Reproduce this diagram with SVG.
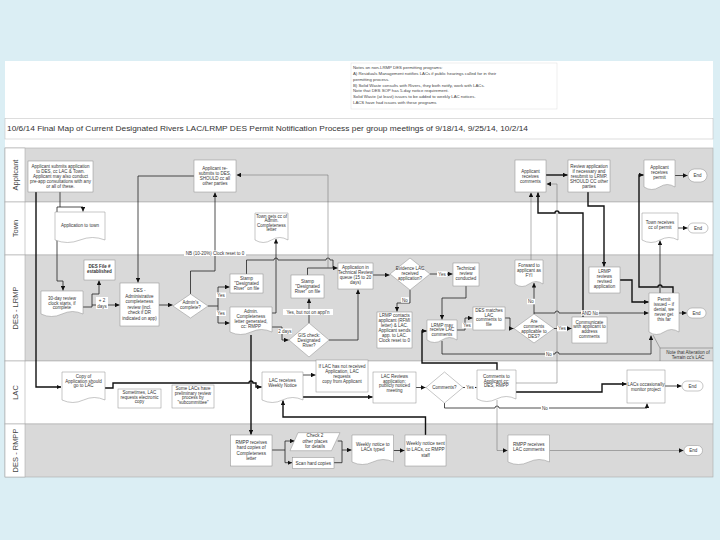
<svg xmlns="http://www.w3.org/2000/svg" width="720" height="540" viewBox="0 0 720 540">
<defs>
<marker id="ah" viewBox="0 0 6 6" refX="6" refY="3" markerWidth="4.5" markerHeight="4.5" markerUnits="userSpaceOnUse" orient="auto"><path d="M0,0L6,3L0,6z" fill="#111"/></marker>
<style>
text{font-family:"Liberation Sans",Arial,sans-serif;fill:#333}
.t{font-size:4.5px;text-anchor:middle}
.r{font-size:4.6px;text-anchor:middle}
.b{fill:#fff;stroke:#8c8c8c;stroke-width:0.5}
.lg{fill:#d9d9d9;stroke:#aaa;stroke-width:0.6}
.lw{fill:#fff;stroke:#aaa;stroke-width:0.6}
.lc{fill:#fff;stroke:#aaa;stroke-width:0.6}
.ll{font-size:7.5px;text-anchor:middle;fill:#444}
.c{fill:none;stroke:#222;stroke-width:0.8}
.k{fill:none;stroke:#111;stroke-width:1.4}
.h{fill:none;stroke:#666;stroke-width:0.5}
.a{marker-end:url(#ah)}
.lb{fill:#fff}
.nt{font-size:4.3px;fill:#444}
</style>
</defs>
<rect width="720" height="540" fill="#dbeef4"/>
<rect x="5" y="61" width="708" height="416" fill="#fff"/>

<g id="notes">
<rect x="351" y="63" width="206" height="46" fill="#fff" stroke="#ddd" stroke-width="0.5"/>
<text class="nt"><tspan x="353" y="68.8">Notes on non-LRMP DES permitting programs:</tspan><tspan x="353" y="74.7">A) Residuals Management notifies LACs if public hearings called for in their</tspan><tspan x="353" y="80.6">permitting process.</tspan><tspan x="353" y="86.5">B) Solid Waste consults with Rivers, they both notify, work with LACs.</tspan><tspan x="353" y="92.4">Note that DES SOP has 5-day notice requirement.</tspan><tspan x="353" y="98.3">Solid Waste (at least) issues to be added to weekly LAC notices.</tspan><tspan x="353" y="104.2">LACS have had issues with these programs</tspan></text>
</g>

<g id="title">
<rect x="5" y="118.3" width="708" height="20.7" fill="#fff" stroke="#bbb" stroke-width="0.5"/>
<text x="7" y="131.3" font-size="7.7" textLength="521" lengthAdjust="spacingAndGlyphs" fill="#222">10/6/14 Final Map of Current Designated Rivers LAC/LRMP DES Permit Notification Process per group meetings of 9/18/14, 9/25/14, 10/2/14</text>
</g>

<g id="lanes">
<rect class="lg" x="5" y="148" width="708" height="54"/>
<rect class="lw" x="5" y="202" width="708" height="53"/>
<rect class="lg" x="5" y="255" width="708" height="106"/>
<rect class="lw" x="5" y="361" width="708" height="63"/>
<rect class="lg" x="5" y="424" width="708" height="53"/>
<rect class="lc" x="5" y="148" width="20" height="54"/>
<rect class="lc" x="5" y="202" width="20" height="53"/>
<rect class="lc" x="5" y="255" width="20" height="106"/>
<rect class="lc" x="5" y="361" width="20" height="63"/>
<rect class="lc" x="5" y="424" width="20" height="53"/>
<text class="ll" transform="translate(17.6,175) rotate(-90)">Applicant</text>
<text class="ll" transform="translate(17.6,228.5) rotate(-90)">Town</text>
<text class="ll" transform="translate(17.6,308) rotate(-90)">DES - LRMP</text>
<text class="ll" transform="translate(17.6,392.5) rotate(-90)">LAC</text>
<text class="ll" transform="translate(17.6,450.5) rotate(-90)">DES - RMPP</text>
</g>

<g id="connectors">
<path class="k a" d="M36,192V387H61"/>
<path class="c a" d="M60,192V207H83V211.5"/>
<path class="c a" d="M60,207H57V281H63V290.5"/>
<path class="c a" d="M83,307H92V294H99V280.5"/>
<path class="c a" d="M92,305H119.5"/>
<path class="c a" d="M159,305H172.5"/>
<path class="c a" d="M208,306H218V287H229.5"/>
<path class="c a" d="M218,306V323H229.5"/>
<path class="c a" d="M190.5,294V271H215V192.5"/>
<path class="c a" d="M194,176H138V282.5"/>
<path class="c" d="M246.5,274V260H274a2,2 0 0 1 4,0H326a2,2 0 0 1 4,0H333V268"/>
<path class="c a" d="M307.5,275V268H337.5"/>
<path class="h a" d="M328,268V175H236.5"/>
<path class="c a" d="M272,327H282V340H288.5"/>
<path class="c a" d="M309,323V298.5"/>
<path class="c a" d="M329,340H358V289.5"/>
<path class="k a" d="M251,335V434.5"/>
<path class="c a" d="M272,313H276V239"/>
<path class="c a" d="M373,275H389.5"/>
<path class="c a" d="M430,274H452.5"/>
<path class="c a" d="M410,290V303H397V311.5"/>
<path class="c a" d="M466,286V298H442V319.5"/>
<path class="c a" d="M457,330H465V318H472.5"/>
<path class="c a" d="M505,318H510V328.5H513.5"/>
<path class="c a" d="M534,314V283"/>
<path class="c a" d="M534,313H555a2,2 0 0 1 4,0H581a2,2 0 0 1 4,0H648.5"/>
<path class="c a" d="M554,328.5H571.5"/>
<path class="k a" d="M583,317V213H559a2,2 0 0 0 -4,0H538V192.5"/>
<path class="h a" d="M531,260V192.5"/>
<path class="c a" d="M442,341V354H555a2,2 0 0 1 4,0H651V335.5"/>
<path class="k a" d="M588,192V206H604V266.5"/>
<path class="k a" d="M546,175H567.5"/>
<path class="k a" d="M620,280H632V302H648.5"/>
<path class="k a" d="M673,293V287H662a2,2 0 0 0 -4,0H639V175H643.5"/>
<path class="c a" d="M660,293V240.5"/>
<path class="c a" d="M679,313H686.5"/>
<path class="c a" d="M675,175.5H687.5"/>
<path class="c a" d="M678,228H687.5"/>
<path class="h" d="M653,335L660,348"/>
<path class="k a" d="M105,388H113V383H249a2,2 0 0 1 4,0H256V387H261.5"/>
<path class="c a" d="M303,375H315.5"/>
<path class="k a" d="M303,397H372.5"/>
<path class="c a" d="M416,387.5H425.5"/>
<path class="c a" d="M463,387.5H476.5"/>
<path class="k a" d="M516,392H602V384H626.5"/>
<path class="c a" d="M665,386H681.5"/>
<path class="c a" d="M444.5,403V408H495a2,2 0 0 1 4,0H647V403.5"/>
<path class="k a" d="M497,370V363H422V331H426.5"/>
<path class="h a" d="M516,383H557V184H546.5"/>
<path class="h a" d="M497,400V450.5H507.5"/>
<path class="k a" d="M425.5,435V417H283V400.5"/>
<path class="c a" d="M272,450H285V441H294.5"/>
<path class="c a" d="M285,450V462.7H292"/>
<path class="c a" d="M337.7,441H342V450H351.5"/>
<path class="c" d="M334,462.7H342V450"/>
<path class="c a" d="M393.5,450.5H404.5"/>
<path class="h a" d="M549.5,450.5H683.5"/>
<g id="conn-labels">
<rect class="lb" x="96" y="297" width="12" height="12"/>
<text class="t"><tspan x="102" y="302.3">+ 2</tspan><tspan x="102" y="307.6">days</tspan></text>
<rect class="lb" x="184" y="250.5" width="62" height="5.5"/>
<text class="t" x="215" y="254.8">NB (10-20%) Clock reset to 0</text>
<rect class="lb" x="216" y="292.5" width="10" height="5.5"/>
<text class="t" x="221" y="296.8">Yes</text>
<rect class="lb" x="216" y="310.5" width="10" height="5.5"/>
<text class="t" x="221" y="314.8">Yes</text>
<rect class="lb" x="278" y="328.5" width="14" height="5.5"/>
<text class="t" x="285" y="332.8">2 days</text>
<rect class="lb" x="283" y="309" width="50" height="6"/>
<text class="t" x="308" y="313.5">Yes, but not on appl'n</text>
<rect class="lb" x="437" y="271.3" width="10" height="5.5"/>
<text class="t" x="442" y="275.6">Yes</text>
<rect class="lb" x="401" y="297.2" width="8" height="5.5"/>
<text class="t" x="405" y="301.5">No</text>
<rect class="lb" x="462" y="322.8" width="10" height="5.5"/>
<text class="t" x="467" y="327.1">Yes</text>
<rect class="lb" x="527" y="298.8" width="8" height="5.5"/>
<text class="t" x="531" y="303.1">No</text>
<rect class="lb" x="581" y="310.2" width="18" height="5.5"/>
<text class="t" x="590" y="314.5">AND No</text>
<rect class="lb" x="557" y="325.8" width="10" height="5.5"/>
<text class="t" x="562" y="330.1">Yes</text>
<rect class="lb" x="545" y="351.2" width="8" height="5.5"/>
<text class="t" x="549" y="355.5">No</text>
<rect class="lb" x="465" y="384.8" width="10" height="5.5"/>
<text class="t" x="470" y="389.1">Yes</text>
<rect class="lb" x="541" y="405.2" width="8" height="5.5"/>
<text class="t" x="545" y="409.5">No</text>
</g>
</g>

<g id="n-applicant-submits"><rect class="b" x="28" y="161" width="65" height="31"/><text class="t"><tspan x="60.5" y="168">Applicant submits application</tspan><tspan x="60.5" y="173">to DES, cc LAC &amp; Town.</tspan><tspan x="60.5" y="178">Applicant may also conduct</tspan><tspan x="60.5" y="183">pre-app consultations with any</tspan><tspan x="60.5" y="188">or all of these.</tspan></text></g>
<g id="n-resubmits"><rect class="b" x="194" y="160" width="42" height="32"/><text class="t"><tspan x="215" y="170">Applicant re-</tspan><tspan x="215" y="175">submits to DES,</tspan><tspan x="215" y="180">SHOULD cc all</tspan><tspan x="215" y="185">other parties</tspan></text></g>
<g id="n-app-receives-comments"><rect class="b" x="515" y="160" width="31" height="32"/><text class="t"><tspan x="530.5" y="172.5">Applicant</tspan><tspan x="530.5" y="177.5">receives</tspan><tspan x="530.5" y="182.5">comments</tspan></text></g>
<g id="n-review-application"><rect class="b" x="568" y="160" width="42" height="32"/><text class="t"><tspan x="589" y="168">Review application</tspan><tspan x="589" y="173">if necessary and</tspan><tspan x="589" y="178">resubmit to LRMP.</tspan><tspan x="589" y="183">SHOULD CC other</tspan><tspan x="589" y="188">parties</tspan></text></g>
<g id="n-app-receives-permit"><path class="b" d="M644,160H675V187Q667.25,182 659.5,187T644,187Z"/><text class="t"><tspan x="659.5" y="168.5">Applicant</tspan><tspan x="659.5" y="173.5">receives</tspan><tspan x="659.5" y="178.5">permit</tspan></text></g>
<g id="n-end1"><rect class="b" x="688" y="169" width="19" height="13" rx="6.5"/><text class="t" x="697.5" y="177">End</text></g>

<g id="n-app-to-town"><path class="b" d="M55,212H105V240Q92.5,235 80,240T55,240Z"/><text class="t" x="80" y="226.5">Application to town</text></g>
<g id="n-town-gets-cc"><path class="b" d="M255,213H288V240Q279.75,235 271.5,240T255,240Z"/><text class="t"><tspan x="271.5" y="217.5">Town gets cc of</tspan><tspan x="271.5" y="222">Admin.</tspan><tspan x="271.5" y="226.5">Completeness</tspan><tspan x="271.5" y="231">letter</tspan></text></g>
<g id="n-town-receives-permit"><path class="b" d="M642,213H678V240Q669,235 660,240T642,240Z"/><text class="t"><tspan x="660" y="224.2">Town receives</tspan><tspan x="660" y="229.2">cc of permit</tspan></text></g>
<g id="n-end2"><rect class="b" x="688" y="223" width="20" height="10" rx="5"/><text class="t" x="698" y="229.6">End</text></g>

<g id="n-des-file"><rect class="b" x="84" y="260" width="31" height="20"/><text class="t" font-weight="bold" fill="#111"><tspan x="99.5" y="268">DES File #</tspan><tspan x="99.5" y="273.3">established</tspan></text></g>
<g id="n-30day"><path class="b" d="M41,291H83V314Q72.5,309 62,314T41,314Z"/><text class="t"><tspan x="62" y="300">30-day review</tspan><tspan x="62" y="304.6">clock starts, if</tspan><tspan x="62" y="309.2">complete</tspan></text></g>
<g id="n-des-admin"><rect class="b" x="120" y="283" width="39" height="43"/><text class="t"><tspan x="139.5" y="292.3">DES -</tspan><tspan x="139.5" y="297.8">Administrative</tspan><tspan x="139.5" y="303.3">completeness</tspan><tspan x="139.5" y="308.8">review (incl.</tspan><tspan x="139.5" y="314.3">check if DR</tspan><tspan x="139.5" y="319.8">indicated on app)</tspan></text></g>
<g id="n-admin-complete"><path class="b" d="M190.5,294L208,306L190.5,318L173,306Z"/><text class="t"><tspan x="190.5" y="304.3">Admin's</tspan><tspan x="190.5" y="309.3">complete?</tspan></text></g>
<g id="n-stamp1"><rect class="b" x="230" y="274" width="33" height="19"/><text class="t"><tspan x="246.5" y="280">Stamp</tspan><tspan x="246.5" y="285">"Designated</tspan><tspan x="246.5" y="290">River" on file</tspan></text></g>
<g id="n-stamp2"><rect class="b" x="291" y="275" width="33" height="23"/><text class="t"><tspan x="307.5" y="283">Stamp</tspan><tspan x="307.5" y="288">"Designated</tspan><tspan x="307.5" y="293">River" on file</tspan></text></g>
<g id="n-admin-letter"><path class="b" d="M230,307H272V332Q261.5,327 251,332T230,332Z"/><text class="t"><tspan x="251" y="312.5">Admin.</tspan><tspan x="251" y="317.5">Completeness</tspan><tspan x="251" y="322.5">letter generated,</tspan><tspan x="251" y="327.5">cc: RMPP</tspan></text></g>
<g id="n-gis"><path class="b" d="M309,323L329,340L309,357L289,340Z"/><text class="t"><tspan x="309" y="337">GIS check:</tspan><tspan x="309" y="342">Designated</tspan><tspan x="309" y="347">River?</tspan></text></g>
<g id="n-tech-queue"><rect class="b" x="338" y="263" width="35" height="26"/><text class="t"><tspan x="355.5" y="268.8">Application in</tspan><tspan x="355.5" y="273.8">Technical Review</tspan><tspan x="355.5" y="278.8">queue (15 to 20</tspan><tspan x="355.5" y="283.8">days)</tspan></text></g>
<g id="n-evidence"><path class="b" d="M410,258L430,274L410,290L390,274Z"/><text class="t"><tspan x="410" y="269.5">Evidence LAC</tspan><tspan x="410" y="274.5">received</tspan><tspan x="410" y="279.5">application?</tspan></text></g>
<g id="n-lrmp-contacts"><rect class="b" x="377" y="312" width="35" height="36"/><text class="t"><tspan x="394.5" y="317.3">LRMP contacts</tspan><tspan x="394.5" y="322.3">applicant (RFMI</tspan><tspan x="394.5" y="327.3">letter) &amp; LAC.</tspan><tspan x="394.5" y="332.3">Applicant sends</tspan><tspan x="394.5" y="337.3">app. to LAC.</tspan><tspan x="394.5" y="342.3">Clock reset to 0</tspan></text></g>
<g id="n-tech-review"><rect class="b" x="453" y="263" width="26" height="23"/><text class="t"><tspan x="466" y="270">Technical</tspan><tspan x="466" y="275">review</tspan><tspan x="466" y="280">conducted</tspan></text></g>
<g id="n-fyi"><path class="b" d="M515,260H543V284Q536,279 529,284T515,284Z"/><text class="t"><tspan x="529" y="266.5">Forward to</tspan><tspan x="529" y="271.5">applicant as</tspan><tspan x="529" y="276.5">FYI</tspan></text></g>
<g id="n-lrmp-reviews"><rect class="b" x="589" y="267" width="31" height="26"/><text class="t"><tspan x="604.5" y="272.5">LRMP</tspan><tspan x="604.5" y="277.5">reviews</tspan><tspan x="604.5" y="282.5">revised</tspan><tspan x="604.5" y="287.5">application</tspan></text></g>
<g id="n-permit"><path class="b" d="M649,293H679V332Q671.5,327 664,332T649,332Z"/><text class="t"><tspan x="664" y="300.8">Permit</tspan><tspan x="664" y="305.8">issued – if</tspan><tspan x="664" y="310.8">denial, we</tspan><tspan x="664" y="315.8">never get</tspan><tspan x="664" y="320.8">this far</tspan></text></g>
<g id="n-end3"><rect class="b" x="687" y="308" width="19" height="10" rx="5"/><text class="t" x="696.5" y="314.6">End</text></g>
<g id="n-lrmp-may-receive"><path class="b" d="M427,320H457V340Q449.5,335 442,340T427,340Z"/><text class="t"><tspan x="442" y="326.5">LRMP may</tspan><tspan x="442" y="331.2">receive LAC</tspan><tspan x="442" y="335.9">comments</tspan></text></g>
<g id="n-des-matches"><rect class="b" x="473" y="307" width="32" height="23"/><text class="t"><tspan x="489" y="312">DES matches</tspan><tspan x="489" y="316.5">LAC</tspan><tspan x="489" y="321">comments to</tspan><tspan x="489" y="325.5">file</tspan></text></g>
<g id="n-are-comments"><path class="b" d="M534,314L554,328.5L534,343L514,328.5Z"/><text class="t"><tspan x="534" y="323.2">Are</tspan><tspan x="534" y="328">comments</tspan><tspan x="534" y="332.8">applicable to</tspan><tspan x="534" y="337.6">DES?</tspan></text></g>
<g id="n-communicate"><rect class="b" x="572" y="317" width="35" height="26"/><text class="t"><tspan x="589.5" y="323.5">Communicate</tspan><tspan x="589.5" y="328.2">with applicant to</tspan><tspan x="589.5" y="332.9">address</tspan><tspan x="589.5" y="337.6">comments</tspan></text></g>
<g id="n-note-aot"><path class="h" d="M660,361V348H713"/><text class="t" font-size="4.3"><tspan x="688" y="354">Note that Alteration of</tspan><tspan x="688" y="359.3">Terrain cc's LAC</tspan></text></g>

<g id="n-copy-lac"><path class="b" d="M62,372H105V400Q94.25,395 83.5,400T62,400Z"/><text class="t"><tspan x="83.5" y="377.7">Copy of</tspan><tspan x="83.5" y="382.5">Application should</tspan><tspan x="83.5" y="387.3">go to LAC</tspan></text></g>
<g id="n-sometimes"><rect class="b" x="118" y="389" width="43" height="19"/><text class="t"><tspan x="139.5" y="394.2">Sometimes, LAC</tspan><tspan x="139.5" y="398.8">requests electronic</tspan><tspan x="139.5" y="403.4">copy</tspan></text></g>
<g id="n-some-lacs"><rect class="b" x="172" y="385" width="42" height="23"/><text class="t"><tspan x="193" y="390">Some LACs have</tspan><tspan x="193" y="394.5">preliminary review</tspan><tspan x="193" y="399">process by</tspan><tspan x="193" y="403.5">"subcommittee"</tspan></text></g>
<g id="n-lac-weekly"><path class="b" d="M262,372H303V400Q292.75,395 282.5,400T262,400Z"/><text class="t"><tspan x="282.5" y="381.5">LAC receives</tspan><tspan x="282.5" y="386.5">Weekly Notice</tspan></text></g>
<g id="n-if-lac"><rect class="b" x="316" y="360" width="52" height="32"/><text class="t"><tspan x="342" y="367.5">If LAC has not received</tspan><tspan x="342" y="372.8">Application, LAC</tspan><tspan x="342" y="378.1">requests</tspan><tspan x="342" y="383.4">copy from Applicant</tspan></text></g>
<g id="n-lac-reviews"><rect class="b" x="373" y="372" width="43" height="31"/><text class="t"><tspan x="394.5" y="377.7">LAC Reviews</tspan><tspan x="394.5" y="382.5">application;</tspan><tspan x="394.5" y="387.3">publicly noticed</tspan><tspan x="394.5" y="392.1">meeting</tspan></text></g>
<g id="n-comments-q"><path class="b" d="M444.5,372L463,387.5L444.5,403L426,387.5Z"/><text class="t" x="444.5" y="389.1">Comments?</text></g>
<g id="n-comments-to-app"><path class="b" d="M477,370H516V399Q506.25,394 496.5,399T477,399Z"/><text class="t"><tspan x="496.5" y="377.7">Comments to</tspan><tspan x="496.5" y="382.5">Applicant cc:</tspan><tspan x="496.5" y="387.3">DES, RMPP</tspan></text></g>
<g id="n-lacs-monitor"><rect class="b" x="627" y="370" width="38" height="33"/><text class="t"><tspan x="646" y="385.5">LACs occasionally</tspan><tspan x="646" y="390.5">monitor project</tspan></text></g>
<g id="n-end4"><rect class="b" x="682" y="381" width="21" height="10" rx="5"/><text class="t" x="692.5" y="387.6">End</text></g>

<g id="n-rmpp-hard"><rect class="b" x="230.5" y="435" width="41.5" height="31"/><text class="r"><tspan x="251.25" y="443.6">RMPP receives</tspan><tspan x="251.25" y="449.2">hard copies of</tspan><tspan x="251.25" y="454.8">Completeness</tspan><tspan x="251.25" y="460.4">letter</tspan></text></g>
<g id="n-check2"><path class="b" d="M298,432.7H340L331.5,450.7H290Z"/><text class="r"><tspan x="315" y="437.4">Check 2</tspan><tspan x="315" y="442.6">other places</tspan><tspan x="315" y="447.8">for details</tspan></text></g>
<g id="n-scan"><rect class="b" x="292.5" y="457.5" width="41.5" height="11"/><text class="r" x="313.25" y="464.6">Scan hard copies</text></g>
<g id="n-weekly-typed"><path class="b" d="M352,435H393.5V462Q383.1,457 372.75,462T352,462Z"/><text class="r"><tspan x="372.75" y="445.5">Weekly notice to</tspan><tspan x="372.75" y="451">LACs typed</tspan></text></g>
<g id="n-weekly-sent"><rect class="b" x="405" y="435" width="41" height="31"/><text class="r"><tspan x="425.5" y="445.3">Weekly notice sent</tspan><tspan x="425.5" y="450.9">to LACs, cc RMPP</tspan><tspan x="425.5" y="456.5">staff</tspan></text></g>
<g id="n-rmpp-lac-comments"><path class="b" d="M508,435H549.5V462Q539.1,457 528.75,462T508,462Z"/><text class="r"><tspan x="528.75" y="445.5">RMPP receives</tspan><tspan x="528.75" y="451">LAC comments</tspan></text></g>
<g id="n-end5"><rect class="b" x="684" y="445.5" width="18.5" height="10" rx="5"/><text class="t" x="693.25" y="452.1">End</text></g>
</svg>
